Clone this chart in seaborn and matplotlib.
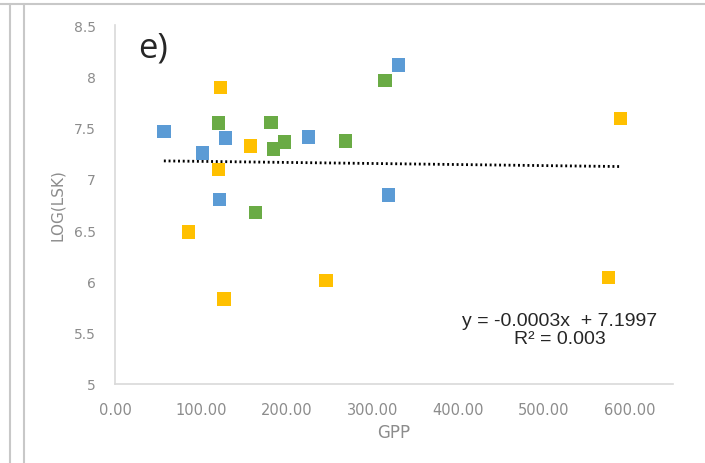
import matplotlib.pyplot as plt
import matplotlib.lines as mlines
import seaborn as sns
import pandas as pd
import numpy as np

# values (GPP vs LOG(LSK)), three groups of squares
blue_gpp = [57, 102, 122, 129, 226, 319, 331]
blue_log = [7.46, 7.25, 6.80, 7.40, 7.41, 6.84, 8.11]
green_gpp = [121, 164, 182, 185, 198, 269, 315]
green_log = [7.545, 6.67, 7.55, 7.29, 7.36, 7.37, 7.96]
yellow_gpp = [86, 121, 123, 127, 158, 246, 576, 590]
yellow_log = [6.48, 7.09, 7.89, 5.83, 7.32, 6.01, 6.04, 7.59]

# trendline as printed on the chart, and where its ends sit in the picture
slope = -0.0003
intercept = 7.1997
r2 = 0.003
trend_log = [7.175, 7.12]

df = pd.DataFrame({
    'GPP': blue_gpp + green_gpp + yellow_gpp,
    'LOG(LSK)': blue_log + green_log + yellow_log,
    'group': ['blue'] * len(blue_gpp) + ['green'] * len(green_gpp) + ['yellow'] * len(yellow_gpp),
})
palette = {'blue': '#5B9BD5', 'green': '#6AAB45', 'yellow': '#FFC000'}

sns.set_style('white')
plt.rcParams['font.family'] = ['DejaVu Sans']

fig = plt.figure(figsize=(7.05, 4.64), dpi=100)
ax = fig.add_axes([115 / 705, 79 / 464, 558 / 705, 359 / 464])

# dotted trendline across the range of the data
xs = [df['GPP'].min(), df['GPP'].max()]
ax.plot(xs, trend_log, color='black', lw=2,
        linestyle=(0, (0.7, 1.0)), dash_capstyle='butt', zorder=1)

sns.scatterplot(data=df, x='GPP', y='LOG(LSK)', hue='group', palette=palette,
                marker='s', s=95, edgecolor='none', legend=False, ax=ax, zorder=2)

ax.set_xlim(0, 651)
ax.set_ylim(5, 8.5)
ax.set_xticks(np.arange(0, 601, 100))
ax.set_xticklabels([f'{v:.2f}' for v in np.arange(0, 601, 100)])
ax.set_yticks(np.arange(5, 8.51, 0.5))
ax.set_yticklabels(['5', '5.5', '6', '6.5', '7', '7.5', '8', '8.5'])

for side in ['top', 'right']:
    ax.spines[side].set_visible(False)
for side in ['left', 'bottom']:
    ax.spines[side].set_color('#d9d9d9')
    ax.spines[side].set_linewidth(1.2)
ax.tick_params(axis='both', direction='in', length=4, color='#d9d9d9',
               labelcolor='#8c8c8c')
ax.tick_params(axis='y', pad=14, labelsize=10)
ax.tick_params(axis='x', pad=13, labelsize=10.5)

ax.set_xlabel('GPP', color='#8c8c8c', fontsize=12, labelpad=4)
ax.set_ylabel('LOG(LSK)', color='#8c8c8c', fontsize=11, labelpad=6)

ax.text(27, 8.45, 'e)', fontsize=25, va='top',
        family=['Open Sans', 'DejaVu Sans'])
ax.text(519, 5.53, f'y = {slope}x  + {intercept}\nR² = {r2}', ha='center', va='center',
        fontsize=14, linespacing=1.05, family=['Liberation Sans', 'DejaVu Sans'])

# frame lines around the panel
line_kw = dict(color='#c8c8c8', lw=1.5, transform=fig.transFigure)
fig.add_artist(mlines.Line2D([0, 1], [1 - 5 / 464] * 2, **line_kw))
fig.add_artist(mlines.Line2D([10 / 705] * 2, [0, 1 - 5 / 464], **line_kw))
fig.add_artist(mlines.Line2D([24 / 705] * 2, [0, 1 - 5 / 464], **line_kw))

plt.savefig('out.png', dpi=100)
